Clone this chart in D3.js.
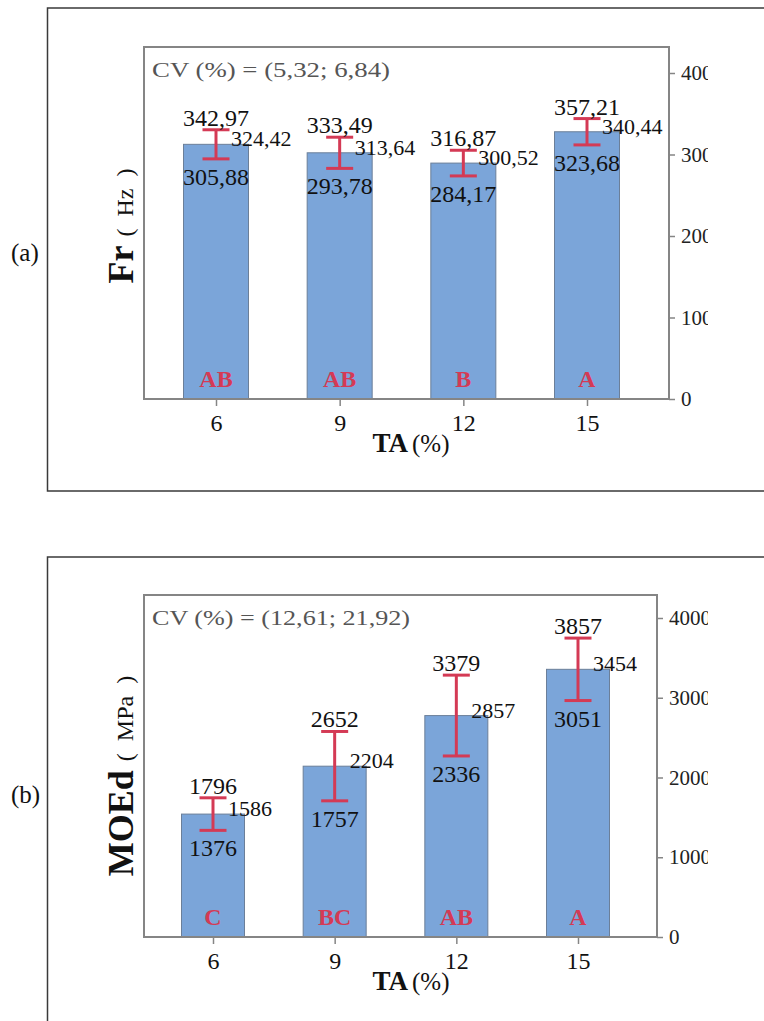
<!DOCTYPE html>
<html>
<head>
<meta charset="utf-8">
<script src="https://cdn.jsdelivr.net/npm/d3@7"></script>
<style>
  html, body { margin: 0; padding: 0; background: #fff; }
  svg { display: block; }
  text { font-family: "Liberation Serif", "Times New Roman", serif; }
</style>
</head>
<body>
<svg id="chart" width="764" height="1021"></svg>
<script>
// ---------- data ----------
const categories = ["6", "9", "12", "15"];

const frMean  = [324.42, 313.64, 300.52, 340.44];
const frUpper = [342.97, 333.49, 316.87, 357.21];
const frLower = [305.88, 293.78, 284.17, 323.68];
const frGroups = ["AB", "AB", "B", "A"];
const frTicks = [0, 100, 200, 300, 400];
const frCV = "CV (%) = (5,32; 6,84)";

const moeMean  = [1586, 2204, 2857, 3454];
const moeUpper = [1796, 2652, 3379, 3857];
const moeLower = [1376, 1757, 2336, 3051];
const moeGroups = ["C", "BC", "AB", "A"];
const moeTicks = [0, 1000, 2000, 3000, 4000];
const moeCV = "CV (%) = (12,61; 21,92)";

// ---------- drawing ----------
const svg = d3.select("#chart");
const barFill = "#7BA5D9";
const barStroke = "#6b7f99";
const errColor = "#D43A55";
const boxColor = "#858585";

svg.append("defs").append("clipPath").attr("id", "tickclip")
  .attr("clipPathUnits", "userSpaceOnUse")
  .append("rect").attr("x", 0).attr("y", 0).attr("width", 708).attr("height", 1021);

function fmtComma(v) { return d3.format(".2f")(v).replace(".", ","); }
function fmtInt(v) { return d3.format("d")(v); }

function panel(cfg) {
  const g = svg.append("g");
  // outer frame (open on the right / clipped by image)
  g.append("path")
    .attr("d", cfg.frameD)
    .attr("fill", "none").attr("stroke", "#3a3a3a").attr("stroke-width", 1.5);

  g.append("text").attr("x", 11).attr("y", cfg.panelLabelY)
    .attr("font-size", 25).attr("fill", "#111").text(cfg.panelLabel);

  const x = d3.scalePoint().domain(categories).range(cfg.xRange);
  const yAxisScale = d3.scaleLinear().domain(cfg.axisDomain).range([cfg.y1, cfg.axisTopPx]);
  const yBar = d3.scaleLinear().domain(cfg.axisDomain).range([cfg.y1, cfg.barTopPx]);

  // bars
  g.selectAll("rect.bar").data(cfg.mean).join("rect")
    .attr("class", "bar")
    .attr("x", (d, i) => x(categories[i]) - cfg.barW / 2)
    .attr("width", cfg.barW)
    .attr("y", d => yBar(d))
    .attr("height", d => cfg.y1 - yBar(d))
    .attr("fill", barFill).attr("stroke", barStroke).attr("stroke-width", 1);

  // plot box
  g.append("path")
    .attr("d", `M${cfg.x0},${cfg.y1}V${cfg.y0}H${cfg.x1}V${cfg.y1}H${cfg.x0}Z`)
    .attr("fill", "none").attr("stroke", boxColor).attr("stroke-width", 2);

  // right axis (labels cut at the image crop like the reference)
  const axR = d3.axisRight(yAxisScale).tickValues(cfg.ticks).tickSize(6).tickPadding(6)
    .tickFormat(d3.format("d"));
  const wrap = g.append("g").attr("clip-path", "url(#tickclip)");
  const axG = wrap.append("g").attr("transform", `translate(${cfg.x1},0)`).call(axR);
  axG.select(".domain").remove();
  axG.selectAll("line").attr("stroke", boxColor).attr("stroke-width", 1.5);
  axG.selectAll("text").attr("font-size", 21).attr("fill", "#222");

  // bottom axis
  const axB = d3.axisBottom(x).tickSize(7).tickPadding(6);
  const axBG = g.append("g").attr("transform", `translate(0,${cfg.y1})`).call(axB);
  axBG.select(".domain").remove();
  axBG.selectAll("line").attr("stroke", boxColor).attr("stroke-width", 1.5);
  axBG.selectAll("text").attr("font-size", 24).attr("fill", "#111").attr("dy", "0.8em");

  // error bars
  const capW = 27;
  const eg = g.append("g").attr("stroke", errColor).attr("stroke-width", 3).attr("fill", "none");
  cfg.mean.forEach((m, i) => {
    const cx = x(categories[i]);
    const yu = yBar(cfg.upper[i]), yl = yBar(cfg.lower[i]);
    eg.append("line").attr("x1", cx).attr("x2", cx).attr("y1", yu).attr("y2", yl);
    eg.append("line").attr("x1", cx - capW / 2).attr("x2", cx + capW / 2).attr("y1", yu).attr("y2", yu);
    eg.append("line").attr("x1", cx - capW / 2).attr("x2", cx + capW / 2).attr("y1", yl).attr("y2", yl);
  });

  // value labels
  const lg = g.append("g").attr("fill", "#111");
  cfg.mean.forEach((m, i) => {
    const cx = x(categories[i]);
    lg.append("text").attr("x", cx).attr("y", yBar(cfg.upper[i]) - 4)
      .attr("text-anchor", "middle").attr("font-size", 24).text(cfg.fmt(cfg.upper[i]));
    lg.append("text").attr("x", cx).attr("y", yBar(cfg.lower[i]) + 26)
      .attr("text-anchor", "middle").attr("font-size", 24).text(cfg.fmt(cfg.lower[i]));
    lg.append("text").attr("x", cx + 15).attr("y", yBar(m) + 2)
      .attr("text-anchor", "start").attr("font-size", 22).text(cfg.fmt(m));
    // group letters
    g.append("text").attr("x", cx).attr("y", cfg.y1 - 12)
      .attr("text-anchor", "middle").attr("font-size", 24).attr("font-weight", "bold")
      .attr("fill", errColor).text(cfg.groups[i]);
  });

  // CV text
  g.append("text").attr("x", 152).attr("y", cfg.y0 + 30)
    .attr("font-size", 21).attr("fill", "#555")
    .attr("textLength", cfg.cvLen).attr("lengthAdjust", "spacingAndGlyphs")
    .text(cfg.cv);

  // x title
  const xt = g.append("text").attr("x", 411).attr("y", cfg.y1 + 53)
    .attr("text-anchor", "middle").attr("fill", "#111");
  xt.append("tspan").attr("font-size", 27).attr("font-weight", "bold").text("TA");
  xt.append("tspan").attr("font-size", 25).attr("dx", 4).text("(%)");

  // y title
  const yt = g.append("text")
    .attr("transform", `translate(133,${cfg.yTitleY}) rotate(-90)`)
    .attr("text-anchor", "middle").attr("fill", "#111");
  yt.append("tspan").attr("font-size", 36).attr("font-weight", "bold").text(cfg.yName);
  yt.append("tspan").attr("font-size", 24).attr("dx", 9).text("(\u2002" + cfg.yUnit + "\u2002)");
}

panel({
  frameD: "M764,8H47.5V491H764",
  panelLabel: "(a)", panelLabelY: 261,
  x0: 144, x1: 669, y0: 47, y1: 399,
  xRange: [216, 587], barW: 65,
  axisDomain: [0, 400], axisTopPx: 73, barTopPx: 399 - 314,
  ticks: frTicks,
  mean: frMean, upper: frUpper, lower: frLower, groups: frGroups,
  fmt: fmtComma, cv: frCV, cvLen: 238,
  yName: "Fr", yUnit: "Hz", yTitleY: 226
});

panel({
  frameD: "M764,557H47.5V1021",
  panelLabel: "(b)", panelLabelY: 803,
  x0: 144, x1: 657, y0: 595, y1: 937,
  xRange: [213, 578], barW: 63,
  axisDomain: [0, 4000], axisTopPx: 618, barTopPx: 937 - 310,
  ticks: moeTicks,
  mean: moeMean, upper: moeUpper, lower: moeLower, groups: moeGroups,
  fmt: fmtInt, cv: moeCV, cvLen: 258,
  yName: "MOEd", yUnit: "MPa", yTitleY: 776
});
</script>
</body>
</html>
